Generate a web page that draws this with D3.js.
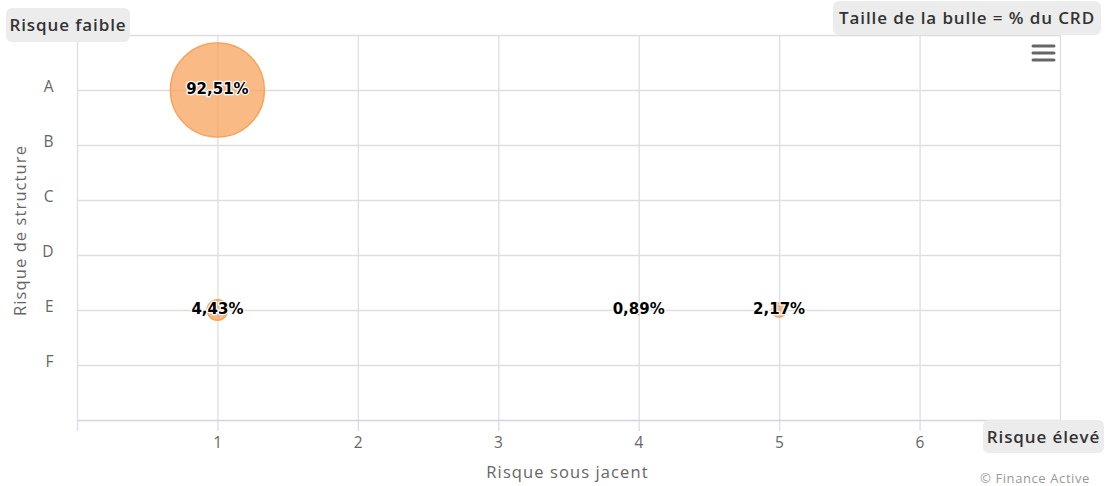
<!DOCTYPE html>
<html>
<head>
<meta charset="utf-8">
<script src="https://cdn.jsdelivr.net/npm/d3@7"></script>
<style>
  html, body { margin: 0; padding: 0; background: #fff; }
  svg { display: block; font-family: "Open Sans", "DejaVu Sans", sans-serif; }
</style>
</head>
<body>
<svg id="chart" width="1105" height="486"></svg>
<script>
// Risk matrix: underlying risk (x) vs structure risk (y), bubble area = share of outstanding capital
const xTicks = [0, 1, 2, 3, 4, 5, 6, 7];
const xTickLabels = ["", "1", "2", "3", "4", "5", "6", ""];
const yCategories = ["", "A", "B", "C", "D", "E", "F", ""];
const bubbleX = [1, 1, 4, 5];
const bubbleY = ["A", "E", "E", "E"];
const bubbleShare = [92.51, 4.43, 0.89, 2.17];
const bubbleLabels = ["92,51%", "4,43%", "0,89%", "2,17%"];

(function () {
const svg = d3.select("#chart");
const mLeft = 77, mRight = 1060, mTop = 35, mBottom = 420;

const x = d3.scaleLinear().domain([0, 7]).range([mLeft, mRight]);
const y = d3.scaleLinear().domain([0, 7]).range([mTop, mBottom]);
const r = d3.scaleSqrt().domain([0, d3.max(bubbleShare)]).range([0, 47]);

const gridColor = "#dedede";

// horizontal grid lines
const yGrid = d3.axisLeft(y).tickValues(d3.range(0, 7)).tickSize(-(mRight - mLeft)).tickFormat("");
svg.append("g").attr("transform", `translate(${mLeft},0)`).call(yGrid)
  .call(g => g.select(".domain").remove())
  .call(g => g.selectAll("line").attr("stroke", gridColor).attr("stroke-width", 1.3));

// vertical grid lines, extended below the axis as tick marks
const xGrid = d3.axisBottom(x).tickValues(xTicks).tickSize(-(mBottom - mTop)).tickFormat("");
svg.append("g").attr("transform", `translate(0,${mBottom})`).call(xGrid)
  .call(g => g.select(".domain").remove())
  .call(g => g.selectAll("line").attr("stroke", gridColor).attr("stroke-width", 1.3)
    .attr("y2", -(mBottom - mTop)).attr("y1", 11));

// x axis line + labels
const xAxis = d3.axisBottom(x).tickValues(xTicks).tickSize(0).tickPadding(17)
  .tickFormat((d, i) => xTickLabels[i]);
svg.append("g").attr("transform", `translate(0,${mBottom})`).call(xAxis)
  .call(g => g.select(".domain").attr("stroke", "#ccd6eb").attr("stroke-width", 1.5))
  .call(g => g.selectAll("text").attr("fill", "#666").attr("font-size", 15.5)
    .attr("letter-spacing", 0.5).attr("font-family", "'Open Sans', sans-serif"));

// y axis labels
const yAxis = d3.axisLeft(y).tickValues(d3.range(1, 7)).tickSize(0).tickPadding(23)
  .tickFormat(d => yCategories[d]);
svg.append("g").attr("transform", `translate(${mLeft},0)`).call(yAxis)
  .call(g => g.select(".domain").remove())
  .call(g => g.selectAll("text").attr("fill", "#666").attr("font-size", 15.5)
    .attr("letter-spacing", 0.5).attr("dy", "0.12em").attr("font-family", "'Open Sans', sans-serif"));

// axis titles
svg.append("text").attr("x", (mLeft + mRight) / 2 - 1).attr("y", 478)
  .attr("text-anchor", "middle").attr("fill", "#666").attr("font-size", 16.5)
  .attr("letter-spacing", 1.1)
  .text("Risque sous jacent");
svg.append("text").attr("transform", `translate(26,${(mTop + mBottom) / 2 + 3}) rotate(-90)`)
  .attr("text-anchor", "middle").attr("fill", "#666").attr("font-size", 16.5)
  .attr("letter-spacing", 1.1)
  .text("Risque de structure");

// bubbles
const data = bubbleX.map((d, i) => ({
  x: d, y: yCategories.indexOf(bubbleY[i]), v: bubbleShare[i], label: bubbleLabels[i]
}));
svg.append("g").selectAll("circle").data(data).join("circle")
  .attr("cx", d => x(d.x)).attr("cy", d => y(d.y)).attr("r", d => r(d.v))
  .attr("fill", "#f7a35c").attr("fill-opacity", 0.75)
  .attr("stroke", "#f7a35c").attr("stroke-width", 1.5);

// data labels with white outline
svg.append("g").selectAll("text").data(data).join("text")
  .attr("x", d => x(d.x)).attr("y", d => y(d.y) + 3.5)
  .attr("text-anchor", "middle")
  .attr("font-family", "'DejaVu Sans', Verdana, sans-serif")
  .attr("font-weight", "bold").attr("font-size", 15)
  .attr("fill", "#000").attr("stroke", "#fff").attr("stroke-width", 2.5)
  .attr("stroke-linejoin", "round").attr("paint-order", "stroke")
  .text(d => d.label);

// rounded annotation boxes
function note(text, bx, by, bw, bh) {
  svg.append("rect").attr("x", bx).attr("y", by).attr("width", bw).attr("height", bh)
    .attr("rx", 6).attr("fill", "#ebebeb").attr("fill-opacity", 0.95);
  svg.append("text").attr("x", bx + bw / 2).attr("y", by + bh / 2 + 6)
    .attr("text-anchor", "middle").attr("fill", "#333").attr("font-size", 17)
    .attr("letter-spacing", 0.9)
    .attr("font-weight", 600).text(text);
}
note("Risque faible", 6, 8, 124, 34);
note("Taille de la bulle = % du CRD", 833, 1, 268, 34);
note("Risque élevé", 983, 420, 121, 33);

// menu icon
const menu = svg.append("g").attr("stroke", "#666").attr("stroke-width", 3).attr("stroke-linecap", "round");
[46, 53, 60].forEach(yy => menu.append("line").attr("x1", 1033).attr("x2", 1054).attr("y1", yy).attr("y2", yy));

// credit
svg.append("text").attr("x", 1090).attr("y", 483).attr("text-anchor", "end")
  .attr("fill", "#999").attr("font-size", 13).attr("letter-spacing", 0.6).text("© Finance Active");
})();
</script>
</body>
</html>
